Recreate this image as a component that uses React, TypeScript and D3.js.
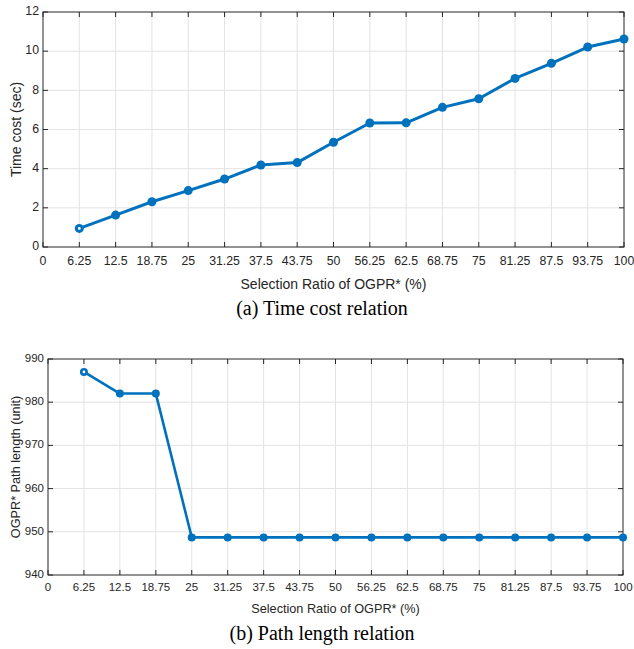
import { useEffect, useRef } from 'react'
import * as d3 from 'd3'

// Selection ratio (%) on the x axis
const RATIOS = [6.25, 12.5, 18.75, 25, 31.25, 37.5, 43.75, 50, 56.25, 62.5, 68.75, 75, 81.25, 87.5, 93.75, 100]
const X_TICKS = [0, ...RATIOS]
const X_TICK_LABELS = ['0', '6.25', '12.5', '18.75', '25', '31.25', '37.5', '43.75', '50', '56.25', '62.5', '68.75', '75', '81.25', '87.5', '93.75', '100']

// (a) time cost in seconds
const TIME_COST = [0.95, 1.63, 2.31, 2.88, 3.47, 4.19, 4.31, 5.35, 6.33, 6.34, 7.13, 7.57, 8.61, 9.38, 10.21, 10.62]
const TIME_TICKS = [0, 2, 4, 6, 8, 10, 12]

// (b) path length
const PATH_LENGTH = [987, 982, 982, 948.7, 948.7, 948.7, 948.7, 948.7, 948.7, 948.7, 948.7, 948.7, 948.7, 948.7, 948.7, 948.7]
const PATH_TICKS = [940, 950, 960, 970, 980, 990]

const W = 634
const H = 649
const BLUE = '#0072BD'
const INK = '#262626'
const SANS = '"Liberation Sans", Arial, Helvetica, sans-serif'
const SERIF = '"Liberation Serif", "Times New Roman", serif'

type Panel = {
  left: number; right: number; top: number; bottom: number
  values: number[]; yDomain: [number, number]; yTicks: number[]
  yLabel: string; caption: string
  tickFont: number; labelFont: number; lineW: number; dotR: number
  tickY: number; xLabelY: number; captionY: number; yLabelX: number
}

const PANELS: Panel[] = [
  {
    left: 43, right: 624, top: 12, bottom: 247,
    values: TIME_COST, yDomain: [0, 12], yTicks: TIME_TICKS,
    yLabel: 'Time cost (sec)', caption: '(a) Time cost relation',
    tickFont: 12.3, labelFont: 14, lineW: 3, dotR: 4.5,
    tickY: 262, xLabelY: 285, captionY: 310, yLabelX: 17,
  },
  {
    left: 48, right: 623, top: 359, bottom: 575,
    values: PATH_LENGTH, yDomain: [940, 990], yTicks: PATH_TICKS,
    yLabel: 'OGPR* Path length (unit)', caption: '(b) Path length relation',
    tickFont: 11.5, labelFont: 12.7, lineW: 2.6, dotR: 4,
    tickY: 588, xLabelY: 610, captionY: 635, yLabelX: 17,
  },
]

export default function App() {
  const svgRef = useRef<SVGSVGElement>(null)

  useEffect(() => {
    if (!svgRef.current) return
    const svg = d3.select(svgRef.current)
    svg.selectAll('*').remove()

    PANELS.forEach((p) => {
      const x = d3.scaleLinear().domain([0, 100]).range([p.left, p.right])
      const y = d3.scaleLinear().domain(p.yDomain).range([p.bottom, p.top])
      const g = svg.append('g')

      // ── Grid ────────────────────────────────────────────────────────────
      g.selectAll('.vg').data(X_TICKS.slice(1, -1)).join('line')
        .attr('x1', (d) => x(d)).attr('x2', (d) => x(d))
        .attr('y1', p.top).attr('y2', p.bottom)
        .attr('stroke', '#e3e3e3').attr('stroke-width', 1)
      g.selectAll('.hg').data(p.yTicks.slice(1, -1)).join('line')
        .attr('x1', p.left).attr('x2', p.right)
        .attr('y1', (d) => y(d)).attr('y2', (d) => y(d))
        .attr('stroke', '#e3e3e3').attr('stroke-width', 1)

      // ── Box + inward ticks ──────────────────────────────────────────────
      g.append('rect')
        .attr('x', p.left).attr('y', p.top)
        .attr('width', p.right - p.left).attr('height', p.bottom - p.top)
        .attr('fill', 'none').attr('stroke', INK).attr('stroke-width', 1)
      const tl = 5
      X_TICKS.forEach((t) => {
        g.append('line').attr('x1', x(t)).attr('x2', x(t)).attr('y1', p.bottom).attr('y2', p.bottom - tl).attr('stroke', INK)
        g.append('line').attr('x1', x(t)).attr('x2', x(t)).attr('y1', p.top).attr('y2', p.top + tl).attr('stroke', INK)
      })
      p.yTicks.forEach((t) => {
        g.append('line').attr('x1', p.left).attr('x2', p.left + tl).attr('y1', y(t)).attr('y2', y(t)).attr('stroke', INK)
        g.append('line').attr('x1', p.right).attr('x2', p.right - tl).attr('y1', y(t)).attr('y2', y(t)).attr('stroke', INK)
      })

      // ── Tick labels ─────────────────────────────────────────────────────
      g.selectAll('.xt').data(X_TICKS).join('text')
        .attr('x', (d) => x(d)).attr('y', p.tickY)
        .attr('text-anchor', 'middle').attr('dominant-baseline', 'middle')
        .attr('font-family', SANS).attr('font-size', p.tickFont).attr('fill', INK)
        .text((_, i) => X_TICK_LABELS[i])
      g.selectAll('.yt').data(p.yTicks).join('text')
        .attr('x', p.left - 4).attr('y', (d) => y(d))
        .attr('text-anchor', 'end').attr('dominant-baseline', 'middle')
        .attr('font-family', SANS).attr('font-size', p.tickFont).attr('fill', INK)
        .text((d) => String(d))

      // ── Axis labels + caption ───────────────────────────────────────────
      g.append('text')
        .attr('x', (p.left + p.right) / 2).attr('y', p.xLabelY)
        .attr('text-anchor', 'middle').attr('dominant-baseline', 'middle')
        .attr('font-family', SANS).attr('font-size', p.labelFont).attr('fill', INK)
        .text('Selection Ratio of OGPR* (%)')
      g.append('text')
        .attr('transform', `translate(${p.yLabelX},${(p.top + p.bottom) / 2}) rotate(-90)`)
        .attr('text-anchor', 'middle').attr('dominant-baseline', 'middle')
        .attr('font-family', SANS).attr('font-size', p.labelFont).attr('fill', INK)
        .text(p.yLabel)
      g.append('text')
        .attr('x', W / 2 + 5).attr('y', p.captionY)
        .attr('text-anchor', 'middle').attr('dominant-baseline', 'middle')
        .attr('font-family', SERIF).attr('font-size', 20).attr('fill', '#000')
        .text(p.caption)

      // ── Series ──────────────────────────────────────────────────────────
      const line = d3.line<number>()
        .x((_, i) => x(RATIOS[i]))
        .y((d) => y(d))
      g.append('path').datum(p.values)
        .attr('d', line).attr('fill', 'none')
        .attr('stroke', BLUE).attr('stroke-width', p.lineW).attr('stroke-linejoin', 'round')
      g.selectAll('.dot').data(p.values).join('circle')
        .attr('cx', (_, i) => x(RATIOS[i])).attr('cy', (d) => y(d))
        .attr('r', p.dotR).attr('fill', BLUE)
      // the first marker renders with a light centre in the source
      g.append('circle')
        .attr('cx', x(RATIOS[0])).attr('cy', y(p.values[0]))
        .attr('r', 1.4).attr('fill', '#fff')
    })
  }, [])

  return (
    <svg ref={svgRef} width={W} height={H}
      style={{ position: 'absolute', left: 0, top: 0, background: '#fff' }} />
  )
}
